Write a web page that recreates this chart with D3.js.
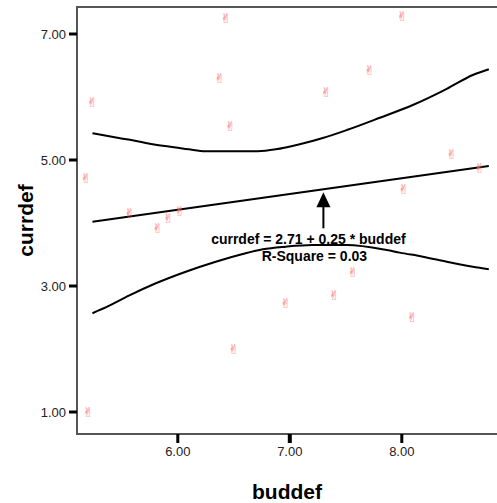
<!DOCTYPE html>
<html>
<head>
<meta charset="utf-8">
<script src="https://cdn.jsdelivr.net/npm/d3@7"></script>
<style>
  body { margin: 0; background: #fff; }
  svg { display: block; font-family: "Liberation Sans", Arial, sans-serif; }
</style>
</head>
<body>
<div id="chart"></div>
<script>
// scatter of currdef vs buddef with linear fit and 95% mean CI bands

const buddef = [5.235, 5.179, 5.199, 5.571, 5.821, 5.917, 6.018, 6.429, 6.375, 6.471, 6.5,
                6.964, 7.324, 7.714, 7.396, 7.563, 8.003, 8.018, 8.092, 8.446, 8.696];
const currdef = [5.916, 4.714, 0.995, 4.163, 3.921, 4.075, 4.195, 7.259, 6.306, 5.544, 2.0,
                 2.735, 6.079, 6.429, 2.857, 3.222, 7.29, 4.54, 2.513, 5.103, 4.878];

// fitted line end points
const fitX = [5.238, 8.777];
const fitY = [4.02, 4.904];

// upper confidence band
const upperX = [5.238, 5.473, 5.607, 5.777, 5.982, 6.098, 6.25, 6.714, 6.875, 6.964, 7.089,
                7.295, 7.509, 7.804, 8.098, 8.402, 8.634, 8.777];
const upperY = [5.424, 5.35, 5.31, 5.25, 5.2, 5.17, 5.14, 5.14, 5.17, 5.2, 5.25,
                5.349, 5.476, 5.671, 5.873, 6.13, 6.349, 6.44];

// lower confidence band
const lowerX = [5.238, 5.384, 5.563, 5.804, 6.071, 6.339, 6.58, 6.759, 6.964, 7.2, 7.509,
                7.866, 7.982, 8.188, 8.402, 8.634, 8.777];
const lowerY = [2.567, 2.683, 2.846, 3.043, 3.227, 3.386, 3.508, 3.583, 3.624, 3.65, 3.651,
                3.571, 3.53, 3.466, 3.386, 3.306, 3.265];

const xTicks = [6, 7, 8];
const yTicks = [1, 3, 5, 7];
const equationText = "currdef = 2.71 + 0.25 * buddef";
const rsqText = "R-Square = 0.03";
const arrowAt = 7.3;

const width = 497, height = 503;
const plotLeft = 77, plotRight = 497, plotTop = 7, plotBottom = 434;

const svg = d3.select("#chart").append("svg")
    .attr("width", width)
    .attr("height", height);

const x = d3.scaleLinear().domain([5.1, 8.85]).range([plotLeft, plotRight]);
const y = d3.scaleLinear().domain([0.6508, 7.4286]).range([plotBottom, plotTop]);

// frame
svg.append("rect")
    .attr("x", plotLeft)
    .attr("y", plotTop)
    .attr("width", plotRight - plotLeft + 10)
    .attr("height", plotBottom - plotTop)
    .attr("fill", "none")
    .attr("stroke", "#555")
    .attr("stroke-width", 2);

// y ticks + labels
svg.selectAll(".ytick")
    .data(yTicks)
    .enter().append("line")
    .attr("x1", plotLeft - 8).attr("x2", plotLeft)
    .attr("y1", d => y(d)).attr("y2", d => y(d))
    .attr("stroke", "#000").attr("stroke-width", 3);

svg.selectAll(".ylab")
    .data(yTicks)
    .enter().append("text")
    .attr("x", plotLeft - 11)
    .attr("y", d => y(d) + 4.5)
    .attr("text-anchor", "end")
    .attr("font-size", 13)
    .attr("fill", "#222")
    .text(d3.format(".2f"));

// x ticks + labels
svg.selectAll(".xtick")
    .data(xTicks)
    .enter().append("line")
    .attr("x1", d => x(d)).attr("x2", d => x(d))
    .attr("y1", plotBottom).attr("y2", plotBottom + 9)
    .attr("stroke", "#000").attr("stroke-width", d => d === 7 ? 4 : 3);

svg.selectAll(".xlab")
    .data(xTicks)
    .enter().append("text")
    .attr("x", d => x(d))
    .attr("y", plotBottom + 22)
    .attr("text-anchor", "middle")
    .attr("font-size", 13)
    .attr("fill", "#222")
    .text(d3.format(".2f"));

// axis titles
svg.append("text")
    .attr("x", (plotLeft + plotRight) / 2)
    .attr("y", 499)
    .attr("text-anchor", "middle")
    .attr("font-size", 21)
    .attr("font-weight", "bold")
    .text("buddef");

svg.append("text")
    .attr("transform", `translate(33, ${(plotTop + plotBottom) / 2}) rotate(-90)`)
    .attr("text-anchor", "middle")
    .attr("font-size", 21)
    .attr("font-weight", "bold")
    .text("currdef");

// lines
const line = d3.line().x(d => x(d[0])).y(d => y(d[1])).curve(d3.curveMonotoneX);
const curves = [d3.zip(fitX, fitY), d3.zip(upperX, upperY), d3.zip(lowerX, lowerY)];

svg.selectAll(".curve")
    .data(curves)
    .enter().append("path")
    .attr("d", d => line(d))
    .attr("fill", "none")
    .attr("stroke", "#000")
    .attr("stroke-width", 2);

// points
svg.selectAll(".pt")
    .data(d3.zip(buddef, currdef))
    .enter().append("text")
    .attr("x", d => x(d[0]))
    .attr("y", d => y(d[1]) + 5)
    .attr("text-anchor", "middle")
    .attr("font-family", "DejaVu Sans")
    .attr("font-size", 13)
    .attr("fill", "#ff7070")
    .text("\u270C");

// annotation arrow
const tipX = x(arrowAt);
const tipY = y(fitY[0] + (arrowAt - fitX[0]) * (fitY[1] - fitY[0]) / (fitX[1] - fitX[0])) + 3;
svg.append("line")
    .attr("x1", tipX).attr("x2", tipX)
    .attr("y1", tipY + 12).attr("y2", tipY + 36)
    .attr("stroke", "#000").attr("stroke-width", 2);
svg.append("path")
    .attr("d", `M${tipX},${tipY} L${tipX - 7},${tipY + 15} L${tipX + 7},${tipY + 15} Z`)
    .attr("fill", "#000");

svg.append("text")
    .attr("x", tipX - 15)
    .attr("y", tipY + 52)
    .attr("text-anchor", "middle")
    .attr("font-size", 14)
    .attr("font-weight", "bold")
    .text(equationText);

svg.append("text")
    .attr("x", tipX - 9)
    .attr("y", tipY + 69)
    .attr("text-anchor", "middle")
    .attr("font-size", 14)
    .attr("font-weight", "bold")
    .text(rsqText);
</script>
</body>
</html>
